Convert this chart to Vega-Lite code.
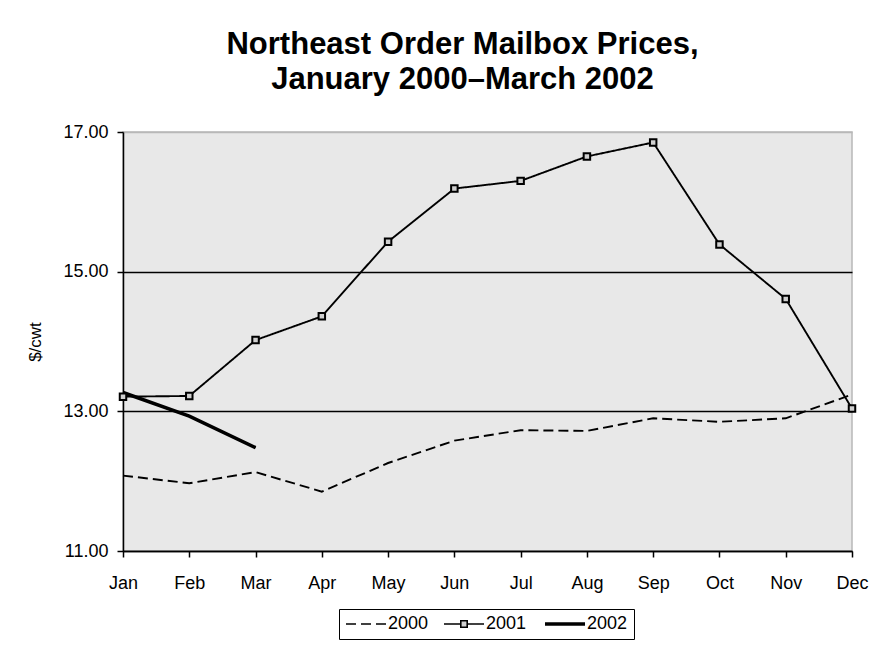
{
  "$schema": "https://vega.github.io/schema/vega-lite/v6.json",
  "autosize": "none",
  "width": 729,
  "height": 419,
  "padding": {"left": 123, "top": 132, "right": 20, "bottom": 113},
  "background": "white",
  "title": {
    "text": ["Northeast Order Mailbox Prices,", "January 2000–March 2002"],
    "font": "Liberation Sans",
    "fontSize": 31,
    "fontWeight": "bold",
    "lineHeight": 35,
    "anchor": "middle",
    "dx": -25,
    "offset": 27,
    "color": "black"
  },
  "config": {
    "font": "Liberation Sans",
    "view": {"fill": "#e8e8e8", "stroke": "#b8b8b8", "strokeWidth": 1.5},
    "axis": {
      "domainColor": "black",
      "domainWidth": 1.5,
      "tickColor": "black",
      "tickWidth": 1.5,
      "tickSize": 6,
      "labelColor": "black",
      "labelFont": "Liberation Sans",
      "labelFontSize": 18,
      "titleColor": "black",
      "titleFont": "Liberation Sans",
      "titleFontWeight": "normal"
    }
  },
  "data": {
    "values": [
      {"year": "2000", "month": "Jan", "price": 12.08},
      {"year": "2000", "month": "Feb", "price": 11.97},
      {"year": "2000", "month": "Mar", "price": 12.13},
      {"year": "2000", "month": "Apr", "price": 11.85},
      {"year": "2000", "month": "May", "price": 12.26},
      {"year": "2000", "month": "Jun", "price": 12.58},
      {"year": "2000", "month": "Jul", "price": 12.73},
      {"year": "2000", "month": "Aug", "price": 12.72},
      {"year": "2000", "month": "Sep", "price": 12.90},
      {"year": "2000", "month": "Oct", "price": 12.85},
      {"year": "2000", "month": "Nov", "price": 12.90},
      {"year": "2000", "month": "Dec", "price": 13.24},
      {"year": "2001", "month": "Jan", "price": 13.21},
      {"year": "2001", "month": "Feb", "price": 13.22},
      {"year": "2001", "month": "Mar", "price": 14.02},
      {"year": "2001", "month": "Apr", "price": 14.36},
      {"year": "2001", "month": "May", "price": 15.43},
      {"year": "2001", "month": "Jun", "price": 16.19},
      {"year": "2001", "month": "Jul", "price": 16.30},
      {"year": "2001", "month": "Aug", "price": 16.65},
      {"year": "2001", "month": "Sep", "price": 16.85},
      {"year": "2001", "month": "Oct", "price": 15.39},
      {"year": "2001", "month": "Nov", "price": 14.61},
      {"year": "2001", "month": "Dec", "price": 13.04},
      {"year": "2002", "month": "Jan", "price": 13.27},
      {"year": "2002", "month": "Feb", "price": 12.93},
      {"year": "2002", "month": "Mar", "price": 12.48}
    ]
  },
  "encoding": {
    "x": {
      "field": "month",
      "type": "ordinal",
      "sort": ["Jan", "Feb", "Mar", "Apr", "May", "Jun", "Jul", "Aug", "Sep", "Oct", "Nov", "Dec"],
      "scale": {"type": "point", "padding": 0},
      "axis": {"title": null, "labelAngle": 0, "labelPadding": 17, "grid": false}
    },
    "y": {
      "field": "price",
      "type": "quantitative",
      "scale": {"domain": [11, 17], "nice": false, "zero": false},
      "axis": {
        "title": "$/cwt",
        "titleFontSize": 17,
        "titlePadding": 18,
        "values": [11, 13, 15, 17],
        "format": ".2f",
        "labelPadding": 9,
        "grid": true,
        "gridColor": {"condition": {"test": "datum.value == 17", "value": "#b8b8b8"}, "value": "black"},
        "gridWidth": 1.3
      }
    }
  },
  "layer": [
    {
      "mark": {"type": "line", "color": "black", "strokeWidth": 1.9},
      "encoding": {
        "strokeDash": {
          "field": "year",
          "type": "ordinal",
          "scale": {"domain": ["2000", "2001", "2002"], "range": [[10, 5], [1, 0], [1, 0]]},
          "legend": {
            "title": null,
            "orient": "none",
            "legendX": 216,
            "legendY": 477,
            "direction": "horizontal",
            "symbolType": "stroke",
            "symbolSize": 1600,
            "symbolOffset": 12,
            "symbolStrokeColor": "black",
            "symbolStrokeWidth": 1.6,
            "labelFontSize": 18,
            "labelColor": "black",
            "labelOffset": 13,
            "columnPadding": 11,
            "strokeColor": "black",
            "padding": 6,
            "encode": {
              "symbols": {
                "update": {
                  "shape": {"signal": "datum.value == '2001' ? 'M-1,0H-0.16M0.16,0H1M-0.16,-0.16H0.16V0.16H-0.16Z' : 'stroke'"},
                  "size": {"value": 1600},
                  "stroke": {"value": "black"},
                  "strokeDash": {"signal": "datum.value == '2000' ? [10, 5] : [1, 0]"},
                  "strokeWidth": {"signal": "datum.value == '2002' ? 3.5 : 1.6"},
                  "fill": {"signal": "datum.value == '2001' ? '#d0d0d0' : 'transparent'"},
                  "opacity": {"value": 1}
                }
              }
            }
          }
        }
      }
    },
    {
      "transform": [{"filter": "datum.year == '2002'"}],
      "mark": {"type": "line", "color": "black", "strokeWidth": 3.5}
    },
    {
      "transform": [{"filter": "datum.year == '2001'"}],
      "mark": {"type": "point", "shape": "square", "filled": true, "fill": "#d0d0d0", "stroke": "black", "strokeWidth": 2, "size": 42, "opacity": 1}
    }
  ]
}
